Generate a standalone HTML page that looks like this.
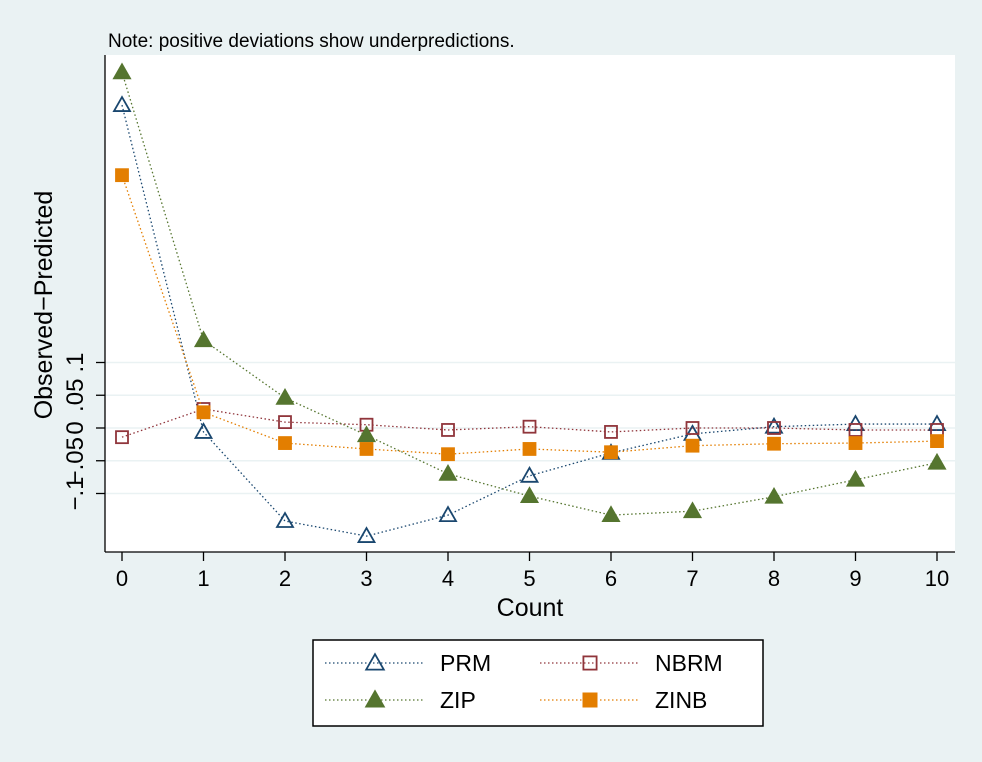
<!DOCTYPE html>
<html><head><meta charset="utf-8"><style>
body{margin:0;background:#eaf2f3;}
svg{display:block;font-family:"Liberation Sans",sans-serif;}
</style></head><body>
<svg id="c" width="982" height="762">
<rect x="0" y="0" width="982" height="762" fill="#eaf2f3"/>
<rect x="105" y="55" width="850" height="497" fill="#ffffff"/>
<text x="108" y="47" font-size="19" fill="#000">Note: positive deviations show underpredictions.</text>
<text transform="translate(52,305) rotate(-90)" text-anchor="middle" font-size="25">Observed−Predicted</text>
<text x="530" y="616" text-anchor="middle" font-size="25">Count</text>
<g id="grid"></g><g id="axes"></g><g id="series"></g>
<g>
<rect x="313" y="640" width="450" height="86" fill="#fff" stroke="#000" stroke-width="1.5"/>
<g id="leg"></g>
</g>
</svg>
<script>
const counts=[0,1,2,3,4,5,6,7,8,9,10];
const prm=[0.493,-0.006,-0.142,-0.165,-0.133,-0.073,-0.038,-0.009,0.002,0.006,0.006];
const nbrm=[-0.014,0.029,0.009,0.005,-0.003,0.002,-0.006,0,0,-0.003,-0.003];
const zip=[0.543,0.134,0.046,-0.011,-0.070,-0.104,-0.133,-0.127,-0.105,-0.079,-0.053];
const zinb=[0.386,0.024,-0.023,-0.032,-0.040,-0.032,-0.037,-0.027,-0.024,-0.023,-0.020];
const yTicks=[-0.1,-0.05,0,0.05,0.1];
const yTickLabels=["−.1","−.05","0",".05",".1"];
const xTicks=[0,1,2,3,4,5,6,7,8,9,10];
const NS="http://www.w3.org/2000/svg";
const X=v=>122+v*81.5, Y=v=>428-v*655;
function mk(t,a,p){const e=document.createElementNS(NS,t);for(const k in a)e.setAttribute(k,a[k]);p.appendChild(e);return e;}
const grid=document.getElementById('grid'),axes=document.getElementById('axes'),ser=document.getElementById('series'),leg=document.getElementById('leg');
yTicks.forEach((t,i)=>{
 let g=mk('line',{x1:105,x2:955,y1:Y(t),y2:Y(t),stroke:'#eaf2f3','stroke-width':1.5},grid);
 
 
 let k=mk('line',{x1:96,x2:105,y1:Y(t),y2:Y(t),stroke:'#000','stroke-width':1.3},axes);
 
 
 let l=mk('text',{transform:`translate(83,${Y(t)}) rotate(-90)`,'text-anchor':'middle','font-size':24},axes);
 l.textContent=yTickLabels[i];
 
 
});
let ya=mk('line',{x1:105,x2:105,y1:55,y2:552,stroke:'#000','stroke-width':1.3},axes);


let xa=mk('line',{x1:105,x2:955,y1:552,y2:552,stroke:'#000','stroke-width':1.3},axes);


xTicks.forEach(t=>{
 let k=mk('line',{x1:X(t),x2:X(t),y1:552,y2:561,stroke:'#000','stroke-width':1.3},axes);
 
 
 let l=mk('text',{x:X(t),y:586,'text-anchor':'middle','font-size':22},axes);
 l.textContent=t;
 
 
});
function marker(kind,x,y,color,p,s){
 s=s||1;let e;
 if(kind==='tri'||kind==='trif'){e=mk('polygon',{points:`${x},${y-8*s} ${x-8*s},${y+6*s} ${x+8*s},${y+6*s}`,fill:kind==='trif'?color:'none',stroke:color,'stroke-width':1.8},p);}
 else{e=mk('rect',{x:x-6*s,y:y-6*s,width:12*s,height:12*s,fill:kind==='sqf'?color:'none',stroke:color,'stroke-width':1.8},p);}
 return e;
}
const S=[["PRM",prm,'#1a476f','tri'],["NBRM",nbrm,'#90353b','sq'],["ZIP",zip,'#55752f','trif'],["ZINB",zinb,'#e37e00','sqf']];
S.forEach(([name,vals,col,kind])=>{
 const g=mk('g',{},ser);
 
 
 const pl=mk('polyline',{points:vals.map((v,i)=>X(counts[i])+','+Y(v)).join(' '),fill:'none',stroke:col,'stroke-width':1.3,'stroke-dasharray':'1.5 2.5'},g);
 
 
 vals.forEach((v,i)=>{const m=marker(kind,X(counts[i]),Y(v),col,g);
  
  });
});
const LP=[[325,663],[540,663],[325,700],[540,700]];
S.forEach(([name,vals,col,kind],i)=>{
 const [lx,ly]=LP[i];
 const g=mk('g',{},leg);
 
 
 mk('line',{x1:lx,x2:lx+100,y1:ly,y2:ly,stroke:col,'stroke-width':1.3,'stroke-dasharray':'1.5 2.5'},g);
 marker(kind,lx+50,ly,col,g,1.1);
 const t=mk('text',{x:lx+115,y:ly+8,'font-size':23},g);t.textContent=name;
});
</script>
</body></html>
